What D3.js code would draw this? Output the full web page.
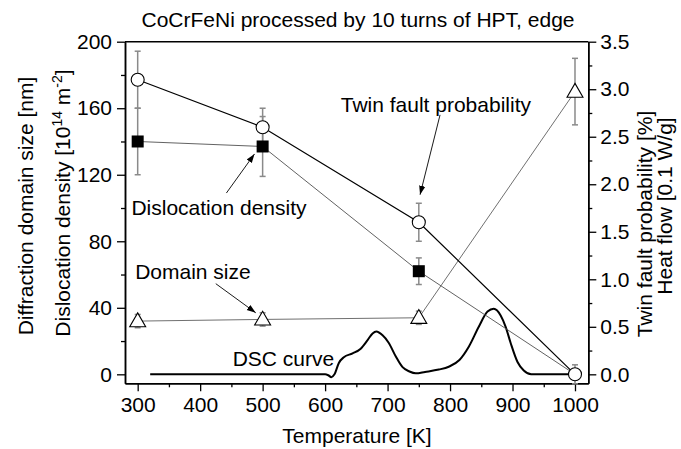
<!DOCTYPE html>
<html>
<head>
<meta charset="utf-8">
<script src="https://cdn.jsdelivr.net/npm/d3@7/dist/d3.min.js"></script>
<style>
  html, body { margin: 0; padding: 0; background: #fff; }
  svg { display: block; }
  text { font-family: "Liberation Sans", Arial, sans-serif; fill: #000; }
</style>
</head>
<body>
<svg id="chart" width="681" height="449"></svg>
<script>
// ---------------- data ----------------
const temperatures = [300, 500, 750, 1000];

const dislocationDensity = [140, 137, 62, 0];      // left axis [1e14 m^-2]
const dislocationErr     = [20, 18, 8, 0];

const domainSize    = [32, 33, 34, 170];            // left axis [nm]
const domainSizeErr = [4, 4, 4, 20];

const twinFault    = [3.1, 2.6, 1.6, 0.0];          // right axis [%]
const twinFaultErr = [0.3, 0.2, 0.2, 0.1];

const dscT    = [320, 600, 605, 610, 615, 622, 630, 644, 657, 668, 676, 682, 692, 702, 713, 724, 735, 745, 760, 782, 798, 815, 830, 846, 860, 870, 881, 889, 897, 908, 918, 930, 990];
const dscHeat = [0, 0, -0.01, -0.03, 0.0, 0.12, 0.18, 0.22, 0.27, 0.36, 0.43, 0.45, 0.41, 0.33, 0.19, 0.075, 0.03, 0.01, 0.025, 0.05, 0.08, 0.15, 0.29, 0.5, 0.66, 0.69, 0.62, 0.5, 0.33, 0.13, 0.04, 0, 0];

const xTicks      = [300, 400, 500, 600, 700, 800, 900, 1000];
const leftTicks   = [0, 40, 80, 120, 160, 200];
const rightTicks  = [0, 0.5, 1.0, 1.5, 2.0, 2.5, 3.0, 3.5];

const titleText  = "CoCrFeNi processed by 10 turns of HPT, edge";
const xLabelText = "Temperature [K]";

// ---------------- layout ----------------
const svg = d3.select("#chart");
const L = 125, R = 588.3, T = 41.7, B = 383.3;
const FS = 21;

const x  = d3.scaleLinear().domain([279.7, 1021.3]).range([L, R]);
const yL = d3.scaleLinear().domain([-5.4, 200]).range([B, T]);
const yR = d3.scaleLinear().domain([-5.4 * 3.5 / 200, 3.5]).range([B, T]);

// ---------------- axes ----------------
function styleAxis(g) {
  g.selectAll("path.domain").attr("stroke", "#000").attr("stroke-width", 1.5);
  g.selectAll(".tick line").attr("stroke", "#000").attr("stroke-width", 1.3);
  g.selectAll(".tick text").style("font-size", FS + "px").attr("fill", "#000")
    .style("font-family", '"Liberation Sans", Arial, sans-serif');
}

// minor ticks
const xMinor = d3.range(350, 1001, 100);
const lMinor = d3.range(20, 200, 40);
const rMinor = d3.range(0.25, 3.5, 0.5);

svg.append("g").attr("transform", `translate(0,${B})`)
  .call(d3.axisBottom(x).tickValues(xMinor).tickSize(4).tickFormat("").tickSizeOuter(0))
  .call(styleAxis);
svg.append("g").attr("transform", `translate(${L},0)`)
  .call(d3.axisLeft(yL).tickValues(lMinor).tickSize(4).tickFormat("").tickSizeOuter(0))
  .call(styleAxis);
svg.append("g").attr("transform", `translate(${R},0)`)
  .call(d3.axisRight(yR).tickValues(rMinor).tickSize(4).tickFormat("").tickSizeOuter(0))
  .call(styleAxis);

svg.append("g").attr("transform", `translate(0,${B})`)
  .call(d3.axisBottom(x).tickValues(xTicks).tickSize(8).tickPadding(6).tickSizeOuter(0).tickFormat(d3.format("d")))
  .call(styleAxis);
svg.append("g").attr("transform", `translate(${L},0)`)
  .call(d3.axisLeft(yL).tickValues(leftTicks).tickSize(8).tickPadding(5).tickSizeOuter(0).tickFormat(d3.format("d")))
  .call(styleAxis);
svg.append("g").attr("transform", `translate(${R},0)`)
  .call(d3.axisRight(yR).tickValues(rightTicks).tickSize(8).tickPadding(4).tickSizeOuter(0).tickFormat(d3.format(".1f")))
  .call(styleAxis);

// top frame
svg.append("line").attr("x1", L).attr("x2", R).attr("y1", T).attr("y2", T)
  .attr("stroke", "#000").attr("stroke-width", 1.5);

// ---------------- DSC curve ----------------
const dscData = dscT.map((t, i) => ({ t, v: dscHeat[i] }));
svg.append("path").datum(dscData)
  .attr("fill", "none").attr("stroke", "#000").attr("stroke-width", 2)
  .attr("d", d3.line().x(d => x(d.t)).y(d => yR(d.v)).curve(d3.curveMonotoneX));

// ---------------- connecting lines ----------------
const sqData  = temperatures.map((t, i) => ({ t, v: dislocationDensity[i], e: dislocationErr[i] }));
const triData = temperatures.map((t, i) => ({ t, v: domainSize[i], e: domainSizeErr[i] }));
const cirData = temperatures.map((t, i) => ({ t, v: twinFault[i], e: twinFaultErr[i] }));

svg.append("path").datum(triData).attr("fill", "none").attr("stroke", "#707070").attr("stroke-width", 1)
  .attr("d", d3.line().x(d => x(d.t)).y(d => yL(d.v)));
svg.append("path").datum(sqData).attr("fill", "none").attr("stroke", "#505050").attr("stroke-width", 0.9)
  .attr("d", d3.line().x(d => x(d.t)).y(d => yL(d.v)));
svg.append("path").datum(cirData).attr("fill", "none").attr("stroke", "#000").attr("stroke-width", 1.2)
  .attr("d", d3.line().x(d => x(d.t)).y(d => yR(d.v)));

// ---------------- error bars ----------------
function errorBars(data, yScale) {
  const g = svg.append("g").attr("stroke", "#8a8a8a").attr("stroke-width", 1.5);
  data.filter(d => d.e > 0).forEach(d => {
    const cx = x(d.t), y1 = yScale(d.v - d.e), y2 = yScale(d.v + d.e);
    g.append("line").attr("x1", cx).attr("x2", cx).attr("y1", y1).attr("y2", y2);
    g.append("line").attr("x1", cx - 3).attr("x2", cx + 3).attr("y1", y1).attr("y2", y1);
    g.append("line").attr("x1", cx - 3).attr("x2", cx + 3).attr("y1", y2).attr("y2", y2);
  });
}
errorBars(sqData, yL);
errorBars(triData, yL);
errorBars(cirData, yR);

// ---------------- markers ----------------
svg.append("g").selectAll("rect").data(sqData.filter(d => d.t < 1000)).join("rect")
  .attr("x", d => x(d.t) - 6).attr("y", d => yL(d.v) - 6)
  .attr("width", 12).attr("height", 12)
  .attr("fill", "#000");

const triSym = d3.symbol().type(d3.symbolTriangle).size(110);
svg.append("g").selectAll("path").data(triData).join("path")
  .attr("transform", d => `translate(${x(d.t)},${yL(d.v) + 1})`)
  .attr("d", triSym)
  .attr("fill", "#fff").attr("stroke", "#000").attr("stroke-width", 1.1);

svg.append("g").selectAll("circle").data(cirData).join("circle")
  .attr("cx", d => x(d.t)).attr("cy", d => yR(d.v)).attr("r", 6.5)
  .attr("fill", "#fff").attr("stroke", "#000").attr("stroke-width", 1.1);

// ---------------- annotations (data coordinates, left axis) ----------------
const annotations = [
  { label: "Twin fault probability", tx: 625, ty: 158, from: [784, 156], to: [752, 108] },
  { label: "Dislocation density",    tx: 290, ty: 95.5, from: [442, 109], to: [487, 132.5] },
  { label: "Domain size",            tx: 296, ty: 57.5, from: [425, 54.5], to: [489, 37] },
  { label: "DSC curve",              tx: 452, ty: 4.8, from: null, to: null }
];

const defs = svg.append("defs");
defs.append("marker").attr("id", "ah").attr("viewBox", "0 0 10 10")
  .attr("refX", 10).attr("refY", 5).attr("markerWidth", 9).attr("markerHeight", 9)
  .attr("markerUnits", "userSpaceOnUse").attr("orient", "auto")
  .append("path").attr("d", "M0,1.5 L10,5 L0,8.5 Z").attr("fill", "#000");

annotations.forEach(a => {
  svg.append("text").attr("x", x(a.tx)).attr("y", yL(a.ty))
    .style("font-size", FS + "px").text(a.label);
  if (a.from) {
    svg.append("line")
      .attr("x1", x(a.from[0])).attr("y1", yL(a.from[1]))
      .attr("x2", x(a.to[0])).attr("y2", yL(a.to[1]))
      .attr("stroke", "#000").attr("stroke-width", 0.9)
      .attr("marker-end", "url(#ah)");
  }
});

// ---------------- titles / labels ----------------
svg.append("text").attr("x", 358).attr("y", 27).attr("text-anchor", "middle")
  .style("font-size", FS + "px").text(titleText);

svg.append("text").attr("x", 357).attr("y", 443).attr("text-anchor", "middle")
  .style("font-size", FS + "px").text(xLabelText);

// left labels
svg.append("text").attr("transform", "translate(33,206) rotate(-90)").attr("text-anchor", "middle")
  .style("font-size", FS + "px").text("Diffraction domain size [nm]");

const dl = svg.append("text").attr("transform", "translate(70,203) rotate(-90)").attr("text-anchor", "middle")
  .style("font-size", FS + "px");
dl.append("tspan").text("Dislocation density [10");
dl.append("tspan").attr("dy", -8).style("font-size", "14px").text("14");
dl.append("tspan").attr("dy", 8).text(" m");
dl.append("tspan").attr("dy", -8).style("font-size", "14px").text("-2");
dl.append("tspan").attr("dy", 8).text("]");

// right labels
svg.append("text").attr("transform", "translate(652,224) rotate(-90)").attr("text-anchor", "middle")
  .style("font-size", FS + "px").text("Twin fault probability [%]");
svg.append("text").attr("transform", "translate(672,206) rotate(-90)").attr("text-anchor", "middle")
  .style("font-size", FS + "px").text("Heat flow [0.1 W/g]");
</script>
</body>
</html>
